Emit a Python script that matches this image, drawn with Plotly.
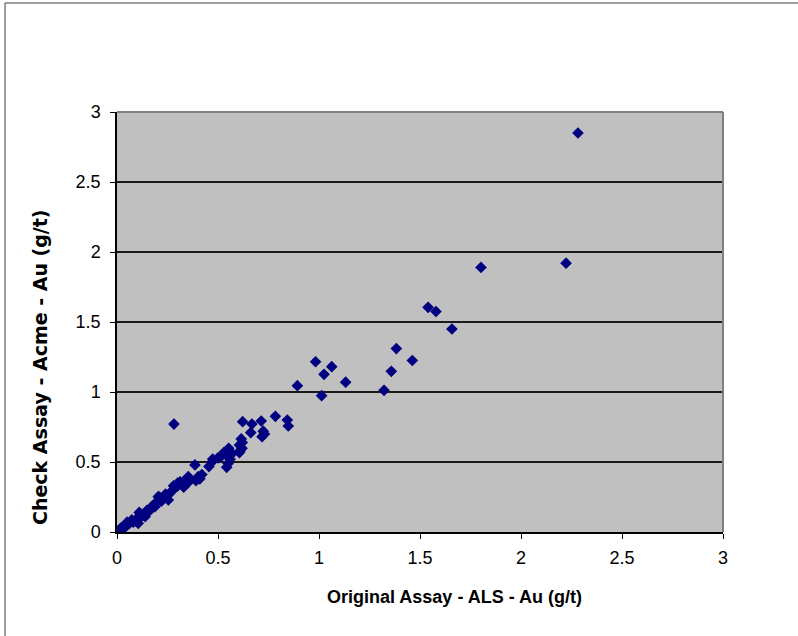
import plotly.graph_objects as go

# Au check assays: original ALS value vs. Acme re-assay (g/t)
als_au = [
    2.282, 2.223, 1.802, 1.540, 1.579, 1.658, 1.383, 1.462, 1.358, 1.322,
    1.132, 0.983, 1.063, 1.025, 1.013, 0.893, 0.843, 0.848, 0.784, 0.714,
    0.668, 0.622, 0.724, 0.718, 0.662, 0.615, 0.606, 0.619, 0.606, 0.609,
    0.559, 0.553, 0.530, 0.518, 0.551, 0.543, 0.474, 0.455, 0.386, 0.402,
    0.391, 0.353, 0.337, 0.312, 0.296, 0.276, 0.262, 0.254, 0.204, 0.196,
    0.188, 0.147, 0.139, 0.105, 0.073, 0.048, 0.023, 0.000, 0.282,
    0.320, 0.330, 0.360, 0.410, 0.420, 0.350, 0.300, 0.280, 0.240, 0.220,
    0.210, 0.170, 0.160, 0.130, 0.120, 0.100, 0.090, 0.080, 0.060, 0.040,
    0.030, 0.010, 0.020, 0.050, 0.110, 0.560, 0.570, 0.550, 0.470, 0.500,
    0.620, 0.730,
]
acme_au = [
    2.850, 1.920, 1.890, 1.605, 1.575, 1.450, 1.310, 1.225, 1.148, 1.012,
    1.070, 1.216, 1.181, 1.126, 0.974, 1.045, 0.800, 0.757, 0.826, 0.793,
    0.771, 0.788, 0.720, 0.681, 0.710, 0.665, 0.621, 0.598, 0.567, 0.581,
    0.574, 0.598, 0.569, 0.543, 0.538, 0.462, 0.521, 0.467, 0.479, 0.395,
    0.366, 0.395, 0.371, 0.359, 0.324, 0.300, 0.276, 0.229, 0.252, 0.216,
    0.181, 0.152, 0.109, 0.062, 0.086, 0.050, 0.026, 0.000, 0.771,
    0.340, 0.320, 0.380, 0.380, 0.410, 0.350, 0.350, 0.330, 0.270, 0.220,
    0.250, 0.180, 0.150, 0.130, 0.110, 0.100, 0.080, 0.070, 0.060, 0.040,
    0.020, 0.010, 0.030, 0.070, 0.140, 0.520, 0.560, 0.490, 0.500, 0.530,
    0.640, 0.700,
]

tick_vals = [0, 0.5, 1, 1.5, 2, 2.5, 3]
tick_text = ["0", "0.5", "1", "1.5", "2", "2.5", "3"]

x_title = "Original Assay - ALS - Au (g/t)"
y_title = "Check Assay - Acme - Au (g/t)"

tick_font = dict(family="Liberation Sans Narrow, Arial Narrow, Liberation Sans, Arial",
                 size=18, color="#000000")

fig = go.Figure()
fig.add_trace(go.Scatter(
    x=als_au, y=acme_au, mode="markers",
    marker=dict(symbol="diamond", size=9, color="#000080",
                line=dict(width=0)),
    showlegend=False, hoverinfo="x+y",
))

fig.update_layout(
    width=798, height=636,
    margin=dict(l=117, r=75, t=112, b=104),
    paper_bgcolor="#FFFFFF",
    plot_bgcolor="#C0C0C0",
    xaxis=dict(
        range=[0, 3], tickvals=tick_vals, ticktext=tick_text,
        showgrid=False, zeroline=False,
        showline=True, linecolor="#000000", linewidth=1.5,
        ticks="outside", ticklen=5, tickcolor="#000000", tickwidth=1,
        ticklabelstandoff=4,
        tickfont=tick_font, fixedrange=True,
    ),
    yaxis=dict(
        range=[0, 3], tickvals=tick_vals, ticktext=tick_text,
        showgrid=True, gridcolor="#1a1a1a", gridwidth=1.5,
        zeroline=False,
        showline=True, linecolor="#000000", linewidth=1.5,
        ticks="outside", ticklen=5, tickcolor="#000000", tickwidth=1,
        ticklabelstandoff=6,
        tickfont=tick_font, fixedrange=True,
    ),
    shapes=[
        # grey frame on the top and right of the plot area
        dict(type="line", xref="x domain", yref="y domain",
             x0=0, x1=1, y0=1, y1=1, line=dict(color="#808080", width=2)),
        dict(type="line", xref="x domain", yref="y domain",
             x0=1, x1=1, y0=0, y1=1, line=dict(color="#808080", width=2)),
        # chart-area border (left and top edges)
        dict(type="line", xref="paper", yref="paper",
             x0=(5 - 117) / 606, x1=(800 - 117) / 606,
             y0=1 + (112 - 3) / 420, y1=1 + (112 - 3) / 420,
             line=dict(color="#404040", width=1)),
        dict(type="line", xref="paper", yref="paper",
             x0=(5 - 117) / 606, x1=(5 - 117) / 606,
             y0=1 + (112 - 3) / 420, y1=-(640 - 532) / 420,
             line=dict(color="#404040", width=1)),
    ],
    annotations=[
        dict(text=f"<b>{x_title}</b>", xref="paper", yref="paper",
             x=(454 - 117) / 606, y=-(597 - 532) / 420,
             xanchor="center", yanchor="middle", showarrow=False,
             font=dict(family="Liberation Sans, Arial", size=18, color="#000000")),
        dict(text=f"<b>{y_title}</b>", xref="paper", yref="paper",
             x=-(117 - 40) / 606, y=(532 - 367) / 420,
             xanchor="center", yanchor="middle", showarrow=False, textangle=-90,
             font=dict(family="DejaVu Sans, Verdana", size=19, color="#000000")),
    ],
)

fig.write_html("out.html")
